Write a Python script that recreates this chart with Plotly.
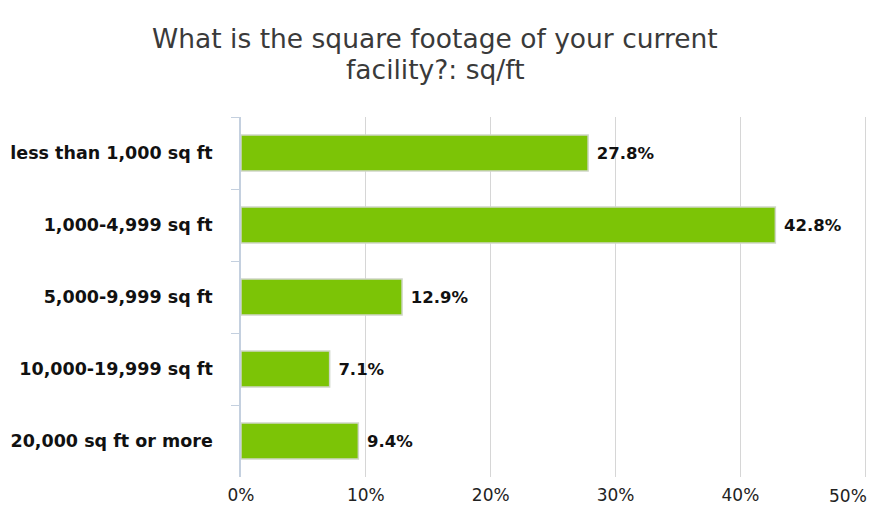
import plotly.graph_objects as go

categories = ["less than 1,000 sq ft", "1,000-4,999 sq ft", "5,000-9,999 sq ft",
              "10,000-19,999 sq ft", "20,000 sq ft or more"]
values = [27.8, 42.8, 12.9, 7.1, 9.4]
x_ticks = [0, 10, 20, 30, 40, 50]
x_tick_labels = ["0%", "10%", "20%", "30%", "40%", "50%"]
title_lines = ["What is the square footage of your current", "facility?: sq/ft"]

W, H = 870, 513
L, T, R, B = 241, 117, 1, 36
PW, PH = W - L - R, H - T - B

fig = go.Figure()
fig.add_trace(go.Bar(
    y=categories, x=values, orientation="h",
    marker=dict(color="#7cc406", line=dict(color="#cfd6c8", width=1.5)),
    text=[f" {v:.1f}%" for v in values],
    textposition="outside",
    textfont=dict(family="DejaVu Sans", size=16.5, color="#111111", weight="bold"),
    cliponaxis=False,
    hoverinfo="skip",
))

for i, line in enumerate(title_lines):
    fig.add_annotation(
        text=line, xref="paper", yref="paper", x=(435 - L) / PW,
        y=1 + (T - (39 + 30 * i)) / PH, xanchor="center", yanchor="middle",
        showarrow=False, font=dict(family="DejaVu Sans", size=26.5, color="#3a3a3a"),
    )

# last tick label is pushed inside the figure edge, as in the reference
shown_labels = x_tick_labels[:-1] + [""]
fig.add_annotation(
    text=x_tick_labels[-1], xref="x", yref="paper", x=x_ticks[-1], xshift=4,
    y=-(496 - (T + PH)) / PH, xanchor="right", yanchor="middle", showarrow=False,
    font=dict(family="DejaVu Sans", size=17, color="#222222"),
)

fig.update_layout(
    width=W, height=H,
    paper_bgcolor="white", plot_bgcolor="white",
    margin=dict(l=L, r=R, t=T, b=B, autoexpand=False),
    bargap=0.5,
    showlegend=False,
)
fig.update_xaxes(
    range=[0, 50.3], tickvals=x_ticks, ticktext=shown_labels,
    showgrid=True, gridcolor="#d6d6d6", gridwidth=1,
    zeroline=False, showline=False, automargin=False,
    tickfont=dict(family="DejaVu Sans", size=17, color="#222222"),
    ticks="", ticklabelstandoff=6,
)
fig.update_yaxes(
    autorange="reversed", categoryorder="array", categoryarray=categories,
    showline=True, linecolor="#c4d0df", linewidth=1.5, automargin=False,
    ticks="outside", tickson="boundaries", ticklen=8, tickcolor="#c4d0df", tickwidth=1,
    showgrid=False,
    tickfont=dict(family="DejaVu Sans", size=17.5, color="#111111", weight="bold"),
    ticklabelstandoff=23,
)

fig.write_html("out.html", config={"displayModeBar": False},
               post_script="document.body.style.margin='0';")
